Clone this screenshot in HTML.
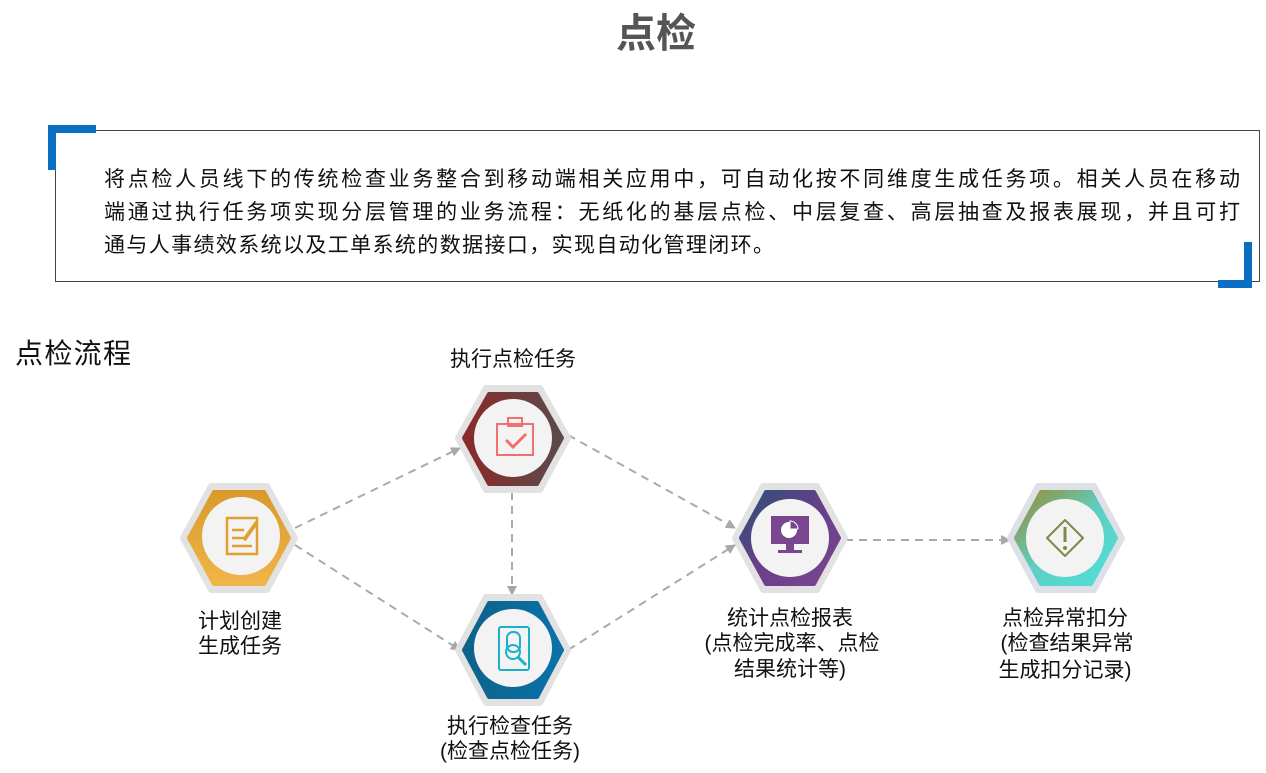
<!DOCTYPE html>
<html><head><meta charset="utf-8"><style>
body{margin:0;width:1266px;height:773px;background:#fff;overflow:hidden;font-family:"Liberation Sans","Noto Sans CJK SC",sans-serif;}
</style></head><body>
<svg width="1266" height="773" xmlns="http://www.w3.org/2000/svg" style="position:absolute;left:0;top:0;font-family:'Liberation Sans','Noto Sans CJK SC',sans-serif">
<defs>
<linearGradient id="g1" x1="0" y1="0" x2="0" y2="1"><stop offset="0" stop-color="#d99a2b"/><stop offset="1" stop-color="#f0b548"/></linearGradient>
<linearGradient id="g2" x1="0" y1="0" x2="1" y2="0"><stop offset="0" stop-color="#8a2a2a"/><stop offset="1" stop-color="#5a4a4a"/></linearGradient>
<linearGradient id="g3" x1="0" y1="0" x2="1" y2="0"><stop offset="0" stop-color="#0d6288"/><stop offset="1" stop-color="#0a72aa"/></linearGradient>
<linearGradient id="g4" x1="0" y1="0" x2="1" y2="1"><stop offset="0" stop-color="#2b4f75"/><stop offset="0.5" stop-color="#6a3f8a"/><stop offset="1" stop-color="#7a4690"/></linearGradient>
<linearGradient id="g5" x1="0" y1="0" x2="1" y2="1"><stop offset="0" stop-color="#9a8a30"/><stop offset="0.5" stop-color="#5dcfc4"/><stop offset="1" stop-color="#50e0d8"/></linearGradient>
<marker id="ar" viewBox="0 0 10 10" refX="9" refY="5" markerWidth="10" markerHeight="10" markerUnits="userSpaceOnUse" orient="auto"><path d="M0,0 L10,5 L0,10z" fill="#a8a8a8"/></marker>
</defs>
<text x="656" y="47" text-anchor="middle" font-size="40" font-weight="bold" fill="#555">点检</text>
<rect x="55.5" y="130.5" width="1204" height="151" fill="none" stroke="#444" stroke-width="1"/>
<path d="M52,170 V129 H96" fill="none" stroke="#0a6fc2" stroke-width="8"/>
<path d="M1248,242 V284 H1218" fill="none" stroke="#0a6fc2" stroke-width="8"/>
<g font-size="21" fill="#111">
<text x="104" y="186" textLength="1136" lengthAdjust="spacing">将点检人员线下的传统检查业务整合到移动端相关应用中，可自动化按不同维度生成任务项。相关人员在移动</text>
<text x="104" y="219" textLength="1136" lengthAdjust="spacing">端通过执行任务项实现分层管理的业务流程：无纸化的基层点检、中层复查、高层抽查及报表展现，并且可打</text>
<text x="104" y="252" textLength="670" lengthAdjust="spacing">通与人事绩效系统以及工单系统的数据接口，实现自动化管理闭环。</text>
</g>
<text x="15" y="363" font-size="28" fill="#111" textLength="116" lengthAdjust="spacing">点检流程</text>
<g stroke="#aaa" stroke-width="2" stroke-dasharray="8,6" fill="none" marker-end="url(#ar)">
<line x1="295" y1="528" x2="460" y2="448"/>
<line x1="295" y1="545" x2="460" y2="650"/>
<line x1="512" y1="492" x2="512" y2="595"/>
<line x1="568" y1="435" x2="735" y2="528"/>
<line x1="568" y1="650" x2="735" y2="545"/>
<line x1="845" y1="540" x2="1010" y2="540"/>
</g>
<g stroke-linejoin="round">
<path d="M183,538 L211,486 L267,486 L295,538 L267,590 L211,590Z" fill="#e2e2e2" stroke="#e2e2e2" stroke-width="6"/>
<path d="M189,538 L214,492 L264,492 L289,538 L264,584 L214,584Z" fill="url(#g1)" stroke="url(#g1)" stroke-width="4"/>
<circle cx="241" cy="536" r="39" fill="#f3f3f3"/>
<path d="M458,438 L486,388 L540,388 L568,438 L540,490 L486,490Z" fill="#e2e2e2" stroke="#e2e2e2" stroke-width="6"/>
<path d="M464,438 L489,394 L537,394 L562,438 L537,484 L489,484Z" fill="url(#g2)" stroke="url(#g2)" stroke-width="4"/>
<circle cx="513" cy="438" r="39" fill="#f3f3f3"/>
<path d="M458,650 L486,597 L540,597 L568,650 L540,703 L486,703Z" fill="#e2e2e2" stroke="#e2e2e2" stroke-width="6"/>
<path d="M464,650 L489,603 L537,603 L562,650 L537,697 L489,697Z" fill="url(#g3)" stroke="url(#g3)" stroke-width="4"/>
<circle cx="513" cy="648" r="39" fill="#f3f3f3"/>
<path d="M735,538 L763,486 L817,486 L845,538 L817,590 L763,590Z" fill="#e2e2e2" stroke="#e2e2e2" stroke-width="6"/>
<path d="M741,538 L766,492 L814,492 L839,538 L814,584 L766,584Z" fill="url(#g4)" stroke="url(#g4)" stroke-width="4"/>
<circle cx="790" cy="538" r="39" fill="#f3f3f3"/>
<path d="M1010,538 L1038,486 L1094,486 L1122,538 L1094,590 L1038,590Z" fill="#dde0e6" stroke="#dde0e6" stroke-width="6"/>
<path d="M1016,538 L1041,492 L1091,492 L1116,538 L1091,584 L1041,584Z" fill="url(#g5)" stroke="url(#g5)" stroke-width="4"/>
<circle cx="1065" cy="538" r="39" fill="#f3f3f3"/>
</g>
<g fill="none" stroke="#e0a030" stroke-width="2.5">
<rect x="227" y="518" width="30" height="36"/>
<line x1="232" y1="530" x2="244" y2="530"/><line x1="232" y1="538" x2="244" y2="538"/><line x1="232" y1="546" x2="252" y2="546"/>
<line x1="244" y1="540" x2="257" y2="522" stroke-width="4"/>
</g>
<g fill="none" stroke="#f07070" stroke-width="2">
<rect x="497" y="424" width="36" height="31"/><rect x="508" y="418" width="14" height="8"/>
<path d="M506,440 L513,447 L526,434" stroke-width="3"/>
</g>
<g fill="none" stroke="#1ab0c8" stroke-width="2">
<rect x="499" y="627" width="30" height="43" rx="2"/><rect x="507" y="632" width="13" height="20" rx="6"/>
<circle cx="513" cy="652" r="7"/><line x1="518" y1="657" x2="526" y2="665" stroke-width="3"/>
</g>
<rect x="771" y="516" width="38" height="28" fill="#7a4690"/>
<rect x="786" y="544" width="8" height="6" fill="#7a4690"/><rect x="778" y="550" width="24" height="3" fill="#7a4690"/>
<circle cx="789" cy="530" r="8" fill="#fff"/><path d="M790,521 A8,8 0 0 1 798,529 L790,529Z" fill="#7a4690" stroke="#fff"/>
<path d="M1065,520 L1083,538 L1065,556 L1047,538Z" fill="none" stroke="#7a8a4a" stroke-width="2" stroke-linejoin="round"/>
<line x1="1065" y1="527" x2="1065" y2="542" stroke="#7a8a4a" stroke-width="3"/><circle cx="1065" cy="548" r="2" fill="#7a8a4a"/>
<g font-size="21" fill="#111" text-anchor="middle">
<text x="513" y="366">执行点检任务</text>
<text x="240" y="628">计划创建</text><text x="240" y="653">生成任务</text>
<text x="510" y="733">执行检查任务</text><text x="510" y="758">(检查点检任务)</text>
<text x="790" y="625">统计点检报表</text><text x="792" y="650">(点检完成率、点检</text><text x="790" y="676">结果统计等)</text>
<text x="1065" y="625">点检异常扣分</text><text x="1067" y="650">(检查结果异常</text><text x="1065" y="677">生成扣分记录)</text>
</g>
</svg>
</body></html>
